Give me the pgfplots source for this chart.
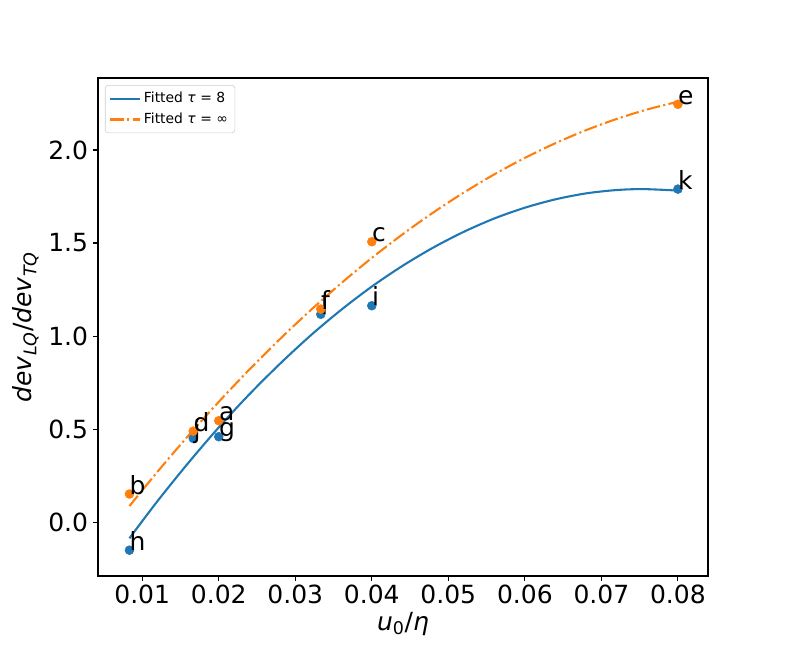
\documentclass[border=0pt]{standalone}
\usepackage{fontspec}
\setmainfont{DejaVu Sans}
\usepackage{pgfplots}
\pgfplotsset{compat=1.18}
\definecolor{mblue}{HTML}{1F77B4}
\definecolor{morange}{HTML}{FF7F0E}
\begin{document}
\begin{tikzpicture}
\useasboundingbox (-70.6pt,-51.1pt) rectangle (496.1pt,414.8pt);
\begin{axis}[
  at={(0,0)}, anchor=south west,
  scale only axis, width=439.2pt, height=358.6pt,
  xmin=0.00423, xmax=0.08393, ymin=-0.290, ymax=2.387,
  scaled x ticks=false, scaled y ticks=false,
  xtick={0.01,0.02,0.03,0.04,0.05,0.06,0.07,0.08},
  xticklabels={0.01,0.02,0.03,0.04,0.05,0.06,0.07,0.08},
  ytick={0,0.5,1,1.5,2},
  yticklabels={0.0,0.5,1.0,1.5,2.0},
  tick pos=left, tick align=outside,
  major tick length=3.5pt,
  every tick/.style={black, line width=0.8pt},
  axis line style={line width=0.8pt},
  ticklabel style={font=\fontsize{18}{21}\selectfont},
  xticklabel style={inner sep=2.5pt},
  yticklabel style={inner sep=3.5pt},
  xlabel={\textit{u}\textsubscript{0}/\textit{η}},
  ylabel={\textit{dev}\textsubscript{\textit{LQ}}/\textit{dev}\textsubscript{\textit{TQ}}},
  label style={font=\fontsize{18}{21}\selectfont},
  xlabel style={yshift=0pt},
  legend style={at={(0.0114,0.986)}, anchor=north west,
    font=\fontsize{10}{12}\selectfont, draw=black!20, rounded corners=2pt,
    row sep=2pt, inner sep=3pt},
  legend cell align=left,
  legend image code/.code={\draw[#1] (0cm,0cm) -- (0.75cm,0cm);},
]
\addplot[mblue, line width=1.5pt, smooth] coordinates {
(0.00833,-0.087) (0.012,0.113) (0.016,0.317) (0.020,0.509) (0.024,0.687)
(0.028,0.851) (0.032,1.003) (0.036,1.141) (0.040,1.266) (0.044,1.377)
(0.048,1.475) (0.052,1.560) (0.056,1.632) (0.060,1.690) (0.064,1.735)
(0.068,1.767) (0.072,1.785) (0.0755,1.790) (0.080,1.782)};
\addlegendentry{Fitted \textit{τ} = 8}
\addplot[morange, line width=1.5pt, smooth, dash pattern=on 9.6pt off 2.4pt on 1.5pt off 2.4pt] coordinates {
(0.00833,0.0860) (0.012,0.2709) (0.016,0.4633) (0.020,0.6463) (0.024,0.8199)
(0.028,0.9840) (0.032,1.1387) (0.036,1.2840) (0.040,1.4199) (0.044,1.5463)
(0.048,1.6633) (0.052,1.7708) (0.056,1.8690) (0.060,1.9577) (0.064,2.0369)
(0.068,2.1068) (0.072,2.1672) (0.076,2.2182) (0.080,2.2597)};
\addlegendentry{Fitted \textit{τ} = ∞}
\addplot[only marks, mark=*, mark size=3.2pt, color=mblue, forget plot,
  nodes near coords, point meta=explicit symbolic,
  every node near coord/.append style={anchor=base west, inner sep=0pt, text=black, font=\fontsize{18}{21}\selectfont}]
  table[meta=lab] {
x y lab
0.008333 -0.151 h
0.016667 0.450 j
0.02 0.459 g
0.033333 1.117 l
0.04 1.163 i
0.08 1.790 k
};
\addplot[only marks, mark=*, mark size=3.2pt, color=morange, forget plot,
  nodes near coords, point meta=explicit symbolic,
  every node near coord/.append style={anchor=base west, inner sep=0pt, text=black, font=\fontsize{18}{21}\selectfont}]
  table[meta=lab] {
x y lab
0.008333 0.151 b
0.016667 0.489 d
0.02 0.545 a
0.033333 1.145 f
0.04 1.507 c
0.08 2.246 e
};
\end{axis}
\end{tikzpicture}
\end{document}
